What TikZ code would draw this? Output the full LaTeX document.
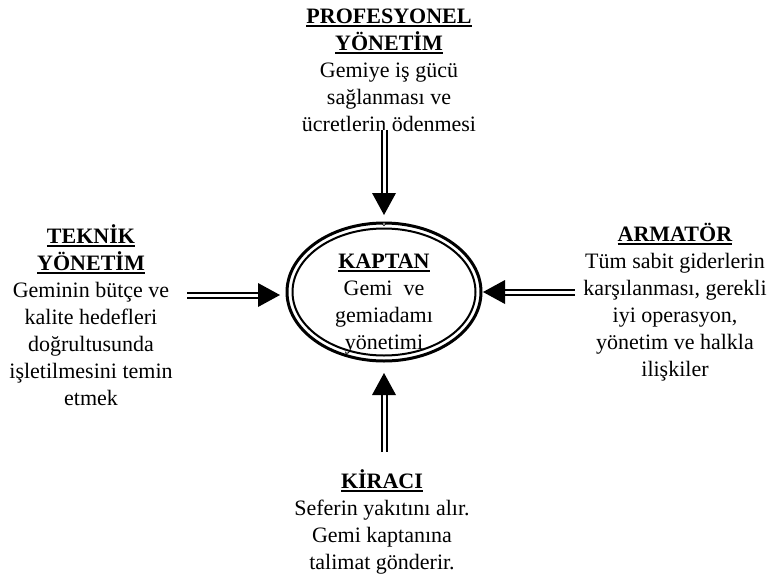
\documentclass[tikz,border=0pt]{standalone}
\usepackage{fontspec}
\setmainfont{Liberation Serif}
\usetikzlibrary{calc}

% bold heading with a heavy underline
\newcommand{\headline}[1]{%
  \setbox0\hbox{\textbf{#1}}%
  \rlap{\rule[-3.5pt]{\wd0}{1.8pt}}\box0}

% double-shafted arrow with a solid triangular head
\newcommand{\dblarrow}[2]{%
  \draw[shaft] (#1) -- ($(#2)!22pt!(#1)$);
  \fill ($(#2)!22pt!(#1)$) coordinate (hb)
        ($(hb)!12pt!90:(#2)$) -- (#2) -- ($(hb)!12pt!-90:(#2)$) -- cycle;
}

\tikzset{
  label/.style={align=center, inner sep=0pt,
    font=\fontsize{22}{27}\selectfont},
  shaft/.style={double, double distance=3pt, line width=2pt},
}

\begin{document}
\begin{tikzpicture}[x=1pt,y=-1pt]
\useasboundingbox (0,0) rectangle (771,576);

% central role
\draw[line width=3pt] (384,292) ellipse [x radius=97, y radius=69];
\draw[line width=2pt] (384,292) ellipse [x radius=91.5, y radius=63.5];
\node[label] (kaptan) at (384,304) {\headline{KAPTAN}\\Gemi\ \ ve\\gemiadamı\\yönetimi};

% surrounding parties
\node[label] (prof) at (389,70) {\headline{PROFESYONEL}\\\headline{YÖNETİM}\\Gemiye iş gücü\\sağlanması ve\\ücretlerin ödenmesi};
\node[label] (teknik) at (91,315) {\headline{TEKNİK}\\\headline{YÖNETİM}\\Geminin bütçe ve\\kalite hedefleri\\doğrultusunda\\işletilmesini temin\\etmek};
\node[label] (armator) at (675,302) {\headline{ARMATÖR}\\Tüm sabit giderlerin\\karşılanması, gerekli\\iyi operasyon,\\yönetim ve halkla\\ilişkiler};
\node[label] (kiraci) at (382,522) {\headline{KİRACI}\\Seferin yakıtını alır.\\Gemi kaptanına\\talimat gönderir.};

% arrow end points
\coordinate (profS) at (384,130);
\coordinate (profT) at (384,215);
\coordinate (teknikS) at (187,295);
\coordinate (teknikT) at (280,295);
\coordinate (armatorS) at (575,292);
\coordinate (armatorT) at (483,292);
\coordinate (kiraciS) at (384,452);
\coordinate (kiraciT) at (384,373);

\dblarrow{profS}{profT}
\dblarrow{teknikS}{teknikT}
\dblarrow{armatorS}{armatorT}
\dblarrow{kiraciS}{kiraciT}

% small ring where the top arrow meets the ellipse
\draw[fill=white, line width=0.6pt] (384,224) circle (1.6);
\end{tikzpicture}
\end{document}
